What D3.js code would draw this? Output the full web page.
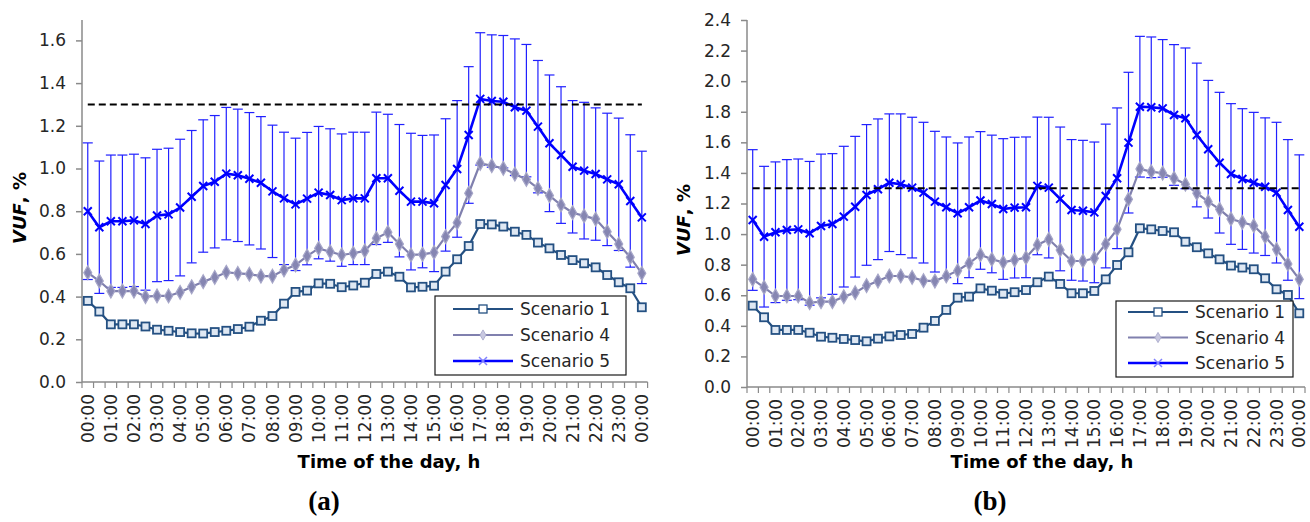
<!DOCTYPE html>
<html><head><meta charset="utf-8">
<script src="https://cdn.jsdelivr.net/npm/d3@7"></script>
<style>
html,body{margin:0;padding:0;background:#fff;}
svg text{font-family:"DejaVu Sans",sans-serif;}
</style></head>
<body>
<svg id="chart" width="1310" height="522"></svg>
<script>
// ---------- DATA ----------
const categories = ["00:00","00:30","01:00","01:30","02:00","02:30","03:00","03:30","04:00","04:30","05:00","05:30","06:00","06:30","07:00","07:30","08:00","08:30","09:00","09:30","10:00","10:30","11:00","11:30","12:00","12:30","13:00","13:30","14:00","14:30","15:00","15:30","16:00","16:30","17:00","17:30","18:00","18:30","19:00","19:30","20:00","20:30","21:00","21:30","22:00","22:30","23:00","23:30","00:00 "];
const tickLabels = ["00:00","01:00","02:00","03:00","04:00","05:00","06:00","07:00","08:00","09:00","10:00","11:00","12:00","13:00","14:00","15:00","16:00","17:00","18:00","19:00","20:00","21:00","22:00","23:00","00:00"];
const seriesNames = ["Scenario 1","Scenario 4","Scenario 5"];
const limitValue = 1.3;

// Panel (a)
const scen1A = [0.38,0.33,0.27,0.27,0.27,0.26,0.245,0.24,0.234,0.228,0.227,0.234,0.24,0.248,0.259,0.287,0.309,0.367,0.422,0.428,0.462,0.46,0.444,0.452,0.465,0.506,0.517,0.493,0.443,0.446,0.451,0.517,0.575,0.637,0.74,0.738,0.728,0.704,0.689,0.653,0.626,0.595,0.571,0.556,0.537,0.501,0.467,0.439,0.35];
const scen4A = [0.512,0.473,0.426,0.426,0.426,0.40,0.403,0.403,0.42,0.446,0.47,0.49,0.514,0.509,0.505,0.496,0.496,0.525,0.548,0.59,0.626,0.61,0.595,0.603,0.614,0.673,0.701,0.646,0.595,0.598,0.607,0.681,0.746,0.884,1.024,1.013,1.001,0.974,0.949,0.907,0.873,0.829,0.793,0.778,0.763,0.704,0.646,0.584,0.509];
const scen5A = [0.80,0.725,0.753,0.753,0.757,0.74,0.78,0.785,0.817,0.868,0.918,0.938,0.976,0.968,0.952,0.933,0.893,0.86,0.832,0.859,0.887,0.876,0.852,0.86,0.86,0.954,0.954,0.896,0.845,0.845,0.837,0.923,0.998,1.157,1.326,1.316,1.313,1.287,1.271,1.196,1.118,1.063,1.008,0.99,0.974,0.949,0.926,0.848,0.771];
const err5A = [0.32,0.31,0.31,0.31,0.31,0.31,0.31,0.31,0.32,0.31,0.31,0.31,0.31,0.31,0.31,0.31,0.31,0.31,0.31,0.31,0.31,0.31,0.31,0.31,0.31,0.31,0.30,0.31,0.32,0.31,0.32,0.31,0.32,0.32,0.31,0.31,0.31,0.32,0.31,0.31,0.32,0.32,0.31,0.32,0.31,0.31,0.31,0.31,0.31];
const yTicksA = [0.0,0.2,0.4,0.6,0.8,1.0,1.2,1.4,1.6];

// Panel (b)
const scen1B = [0.532,0.456,0.373,0.373,0.373,0.355,0.329,0.322,0.314,0.307,0.299,0.316,0.331,0.34,0.347,0.388,0.432,0.504,0.584,0.591,0.645,0.63,0.61,0.62,0.634,0.685,0.722,0.674,0.613,0.613,0.628,0.704,0.798,0.881,1.038,1.031,1.02,1.012,0.95,0.914,0.874,0.835,0.794,0.781,0.77,0.711,0.639,0.602,0.482];
const scen4B = [0.704,0.652,0.595,0.595,0.595,0.551,0.558,0.558,0.591,0.617,0.663,0.693,0.726,0.726,0.717,0.695,0.693,0.726,0.761,0.809,0.865,0.835,0.815,0.831,0.846,0.929,0.966,0.896,0.824,0.824,0.842,0.935,1.031,1.227,1.426,1.408,1.398,1.365,1.326,1.267,1.212,1.162,1.099,1.077,1.055,0.983,0.9,0.804,0.704];
const scen5B = [1.092,0.983,1.012,1.027,1.031,1.005,1.053,1.066,1.114,1.179,1.256,1.293,1.336,1.326,1.304,1.271,1.212,1.175,1.136,1.175,1.22,1.197,1.164,1.173,1.175,1.315,1.304,1.23,1.158,1.153,1.142,1.249,1.365,1.598,1.833,1.829,1.822,1.779,1.757,1.648,1.555,1.467,1.393,1.36,1.336,1.31,1.271,1.158,1.048];
const err5B = [0.46,0.46,0.46,0.46,0.46,0.47,0.47,0.46,0.46,0.46,0.46,0.46,0.45,0.46,0.46,0.46,0.46,0.46,0.46,0.46,0.45,0.45,0.46,0.46,0.46,0.45,0.46,0.47,0.46,0.46,0.46,0.47,0.46,0.46,0.46,0.46,0.45,0.46,0.46,0.47,0.45,0.46,0.46,0.46,0.46,0.45,0.46,0.46,0.47];
const yTicksB = [0.0,0.2,0.4,0.6,0.8,1.0,1.2,1.4,1.6,1.8,2.0,2.2,2.4];

// ---------- STYLE ----------
const C1 = "#245082", C1fill = "#dfe8f3";
const C4 = "#8080ae", C4fill = "#8686b2", C4stroke = "#a6a6c8";
const C5 = "#0000ff";
const AXIS = "#8a8a8a";
const TXT = "#262626";

const svg = d3.select("#chart");

function drawPanel(p) {
  const g = svg.append("g");
  const x = d3.scaleBand().domain(categories).range([p.left, p.right]).padding(0);
  const bw = x.bandwidth();
  const cx = c => x(c) + bw / 2;
  const y = d3.scaleLinear().domain([0, p.yMax]).range([p.bottom, p.yMaxPx]);

  // y axis
  const yAxis = d3.axisLeft(y).tickValues(p.yTicks).tickSize(6).tickPadding(10)
    .tickFormat(d3.format(".1f"));
  const ya = g.append("g").attr("transform", `translate(${p.left},0)`).call(yAxis);
  ya.select(".domain").remove();
  ya.selectAll(".tick line").attr("stroke", AXIS).attr("stroke-width", 1.5);
  ya.selectAll(".tick text").attr("fill", TXT).style("font-size", "17px")
    .style("font-family", "DejaVu Sans, sans-serif");
  g.append("line").attr("x1", p.left).attr("x2", p.left)
    .attr("y1", p.axisTop).attr("y2", p.bottom).attr("stroke", AXIS).attr("stroke-width", 1.5);

  // x axis line + tick marks at band boundaries
  g.append("line").attr("x1", p.left).attr("x2", p.right)
    .attr("y1", p.bottom).attr("y2", p.bottom).attr("stroke", AXIS).attr("stroke-width", 1.5);
  const bounds = categories.map(c => x(c)).concat([p.right]);
  g.selectAll(".xt").data(bounds).enter().append("line")
    .attr("x1", d => d).attr("x2", d => d)
    .attr("y1", p.bottom).attr("y2", p.bottom + 6)
    .attr("stroke", AXIS).attr("stroke-width", 1.2);

  // x labels (every second category) via axis
  const labelCats = categories.filter((c, i) => i % 2 === 0);
  const xAxis = d3.axisBottom(x).tickValues(labelCats).tickSize(0)
    .tickFormat((d, i) => tickLabels[i]);
  const xa = g.append("g").attr("transform", `translate(0,${p.bottom})`).call(xAxis);
  xa.select(".domain").remove();
  xa.selectAll(".tick text")
    .attr("fill", TXT).style("font-size", "17px")
    .attr("text-anchor", "end")
    .attr("transform", "rotate(-90)")
    .attr("x", -12).attr("y", 0).attr("dy", "0.36em");

  // axis titles
  const yt = g.append("text")
    .attr("transform", `translate(${p.yTitleX},${p.yTitleY}) rotate(-90)`)
    .attr("text-anchor", "middle").attr("dy", "0.36em")
    .attr("fill", "#000").style("font-size", "18px").style("font-weight", "bold");
  yt.append("tspan").style("font-style", "italic").text("VUF");
  yt.append("tspan").text(", %");
  g.append("text").attr("x", p.xTitleX).attr("y", p.xTitleY)
    .attr("text-anchor", "middle").attr("fill", "#000")
    .style("font-size", "18px").style("font-weight", "bold")
    .text("Time of the day, h");
  g.append("text").attr("x", p.tagX).attr("y", p.tagY)
    .attr("text-anchor", "middle").attr("fill", "#000")
    .style("font-family", "Liberation Serif, serif").style("font-size", "27px")
    .style("font-weight", "bold").text(p.tag);

  // error bars for Scenario 5
  const eb = g.append("g").attr("stroke", "#2020ff").attr("stroke-width", 1.2);
  categories.forEach((c, i) => {
    const xx = cx(c), hi = y(p.s5[i] + p.e5[i]), lo = y(p.s5[i] - p.e5[i]);
    eb.append("line").attr("x1", xx).attr("x2", xx).attr("y1", hi).attr("y2", lo);
    eb.append("line").attr("x1", xx - 5).attr("x2", xx + 5).attr("y1", hi).attr("y2", hi);
    eb.append("line").attr("x1", xx - 5).attr("x2", xx + 5).attr("y1", lo).attr("y2", lo);
  });

  const line = d3.line().x((d, i) => cx(categories[i])).y(d => y(d));

  // Scenario 1
  g.append("path").datum(p.s1).attr("d", line).attr("fill", "none")
    .attr("stroke", C1).attr("stroke-width", 2.2);
  g.selectAll(".m1").data(p.s1).enter().append("rect")
    .attr("x", (d, i) => cx(categories[i]) - 4).attr("y", d => y(d) - 4)
    .attr("width", 8).attr("height", 8)
    .attr("fill", C1fill).attr("stroke", C1).attr("stroke-width", 1.8);

  // Scenario 4
  g.append("path").datum(p.s4).attr("d", line).attr("fill", "none")
    .attr("stroke", C4).attr("stroke-width", 2.2);
  const diamond = d3.symbol().type(d3.symbolDiamond).size(55);
  g.selectAll(".m4").data(p.s4).enter().append("path")
    .attr("d", diamond)
    .attr("transform", (d, i) => `translate(${cx(categories[i])},${y(d)})`)
    .attr("fill", C4fill).attr("stroke", C4stroke).attr("stroke-width", 1.2);

  // Scenario 5
  g.append("path").datum(p.s5).attr("d", line).attr("fill", "none")
    .attr("stroke", C5).attr("stroke-width", 2.6);
  g.selectAll(".m5").data(p.s5).enter().append("path")
    .attr("d", "M-4,-4L4,4M-4,4L4,-4")
    .attr("transform", (d, i) => `translate(${cx(categories[i])},${y(d)})`)
    .attr("stroke", C5).attr("stroke-width", 2);

  // limit line 1.3 %
  g.append("line")
    .attr("x1", cx(categories[0])).attr("x2", cx(categories[categories.length - 1]))
    .attr("y1", y(limitValue)).attr("y2", y(limitValue))
    .attr("stroke", "#000").attr("stroke-width", 2).attr("stroke-dasharray", "7,4");

  // legend
  const L = p.legend;
  const lg = g.append("g");
  lg.append("rect").attr("x", L.x).attr("y", L.y).attr("width", L.w).attr("height", L.h)
    .attr("fill", "#fff").attr("stroke", "#1a1a1a").attr("stroke-width", 1.2);
  const rows = [L.y + L.r0, L.y + L.r0 + L.dr, L.y + L.r0 + 2 * L.dr];
  const lx1 = L.x + L.lineStart, lx2 = lx1 + 60, mx = lx1 + 30;
  // row 1
  lg.append("line").attr("x1", lx1).attr("x2", lx2).attr("y1", rows[0]).attr("y2", rows[0])
    .attr("stroke", C1).attr("stroke-width", 2.2);
  lg.append("rect").attr("x", mx - 4).attr("y", rows[0] - 4).attr("width", 8).attr("height", 8)
    .attr("fill", "#fff").attr("stroke", C1).attr("stroke-width", 1.3);
  // row 2
  lg.append("line").attr("x1", lx1).attr("x2", lx2).attr("y1", rows[1]).attr("y2", rows[1])
    .attr("stroke", C4).attr("stroke-width", 2.2);
  lg.append("path").attr("d", d3.symbol().type(d3.symbolDiamond).size(30))
    .attr("transform", `translate(${mx},${rows[1]})`)
    .attr("fill", "#c8c8e0").attr("stroke", "#b0b0d0").attr("stroke-width", 1);
  // row 3
  lg.append("line").attr("x1", lx1).attr("x2", lx2).attr("y1", rows[2]).attr("y2", rows[2])
    .attr("stroke", C5).attr("stroke-width", 2.6);
  lg.append("path").attr("d", "M-4,-4L4,4M-4,4L4,-4")
    .attr("transform", `translate(${mx},${rows[2]})`)
    .attr("stroke", "#8080ff").attr("stroke-width", 1.5);
  seriesNames.forEach((n, i) => {
    lg.append("text").attr("x", lx2 + 7).attr("y", rows[i]).attr("dy", "0.36em")
      .attr("fill", TXT).style("font-size", "17px").text(n);
  });
}

drawPanel({
  left: 82, right: 647.6, bottom: 382, yMax: 1.6, yMaxPx: 40.4, axisTop: 20, yTicks: yTicksA,
  s1: scen1A, s4: scen4A, s5: scen5A, e5: err5A,
  yTitleX: 20, yTitleY: 208, xTitleX: 389, xTitleY: 468, tag: "(a)", tagX: 324, tagY: 510,
  legend: {x: 435, y: 296, w: 191, h: 79, r0: 13, dr: 26, lineStart: 18}
});
drawPanel({
  left: 747, right: 1305, bottom: 387, yMax: 2.4, yMaxPx: 20, axisTop: 20, yTicks: yTicksB,
  s1: scen1B, s4: scen4B, s5: scen5B, e5: err5B,
  yTitleX: 684, yTitleY: 220, xTitleX: 1042, xTitleY: 468, tag: "(b)", tagX: 990, tagY: 510,
  legend: {x: 1116, y: 301, w: 177, h: 76, r0: 11, dr: 25.5, lineStart: 12}
});
</script>
</body></html>
